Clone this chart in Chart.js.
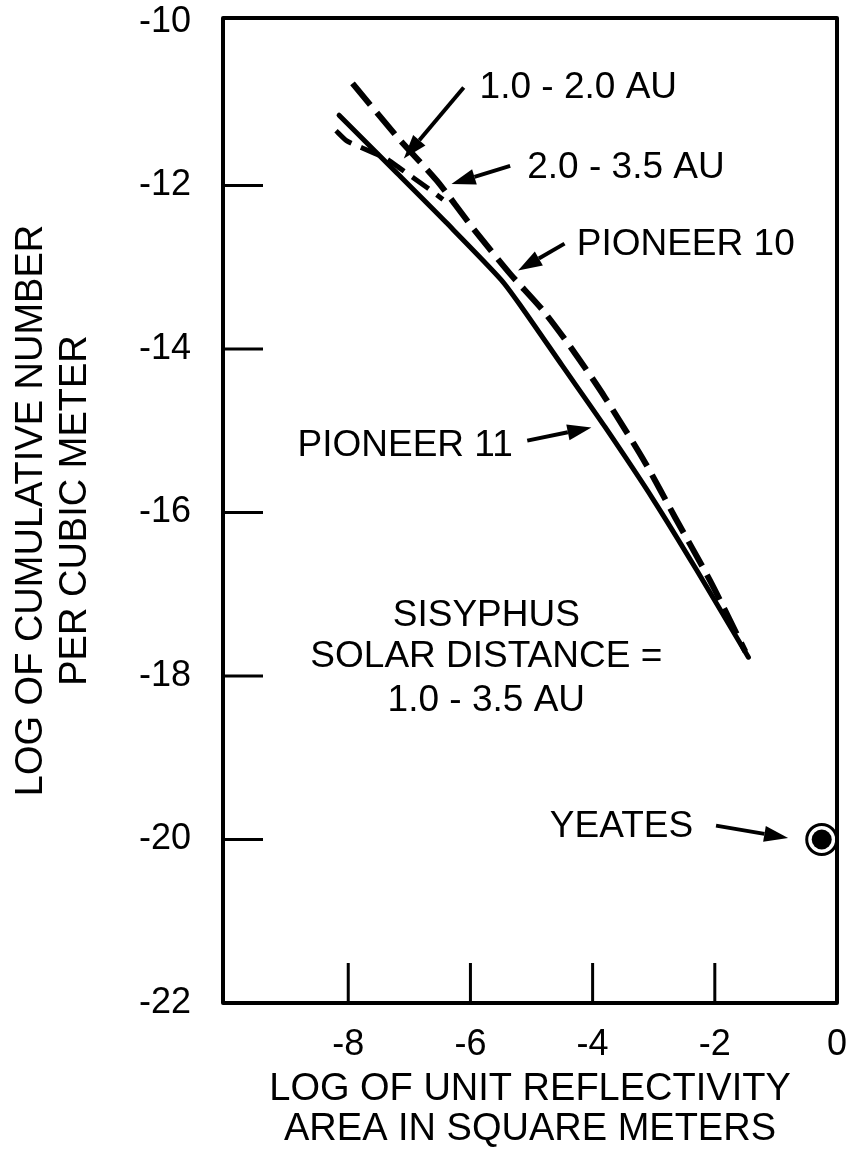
<!DOCTYPE html>
<html>
<head>
<meta charset="utf-8">
<script src="https://cdn.jsdelivr.net/npm/chart.js@4.4.1/dist/chart.umd.min.js"></script>
<style>
  html, body { margin: 0; padding: 0; background: #ffffff; }
  #wrap { width: 855px; height: 1151px; position: relative; }
</style>
</head>
<body>
<div id="wrap"><canvas id="c" width="855" height="1151"></canvas></div>
<script>
// ---------------- data ----------------
const pioneer11X = [-8.15, -7.2, -6.4, -5.5, -5.15, -4.5, -3.8, -3.0, -2.3, -1.45];
const pioneer11Y = [-11.14, -11.85, -12.45, -13.15, -13.5, -14.2, -14.95, -15.85, -16.7, -17.77];

const pioneer10X = [-7.93, -7.17, -6.55, -5.95, -5.35, -4.81, -4.29, -3.80, -3.14, -2.65, -2.08, -1.50];
const pioneer10Y = [-10.75, -11.43, -11.94, -12.53, -13.08, -13.53, -14.05, -14.59, -15.39, -16.06, -16.83, -17.70];

const sisyphusX = [-8.20, -8.03, -7.77, -7.38, -7.17, -6.68, -6.45];
const sisyphusY = [-11.33, -11.45, -11.54, -11.67, -11.78, -12.04, -12.17];

const yeatesX = [-0.25];
const yeatesY = [-20.0];

const xTickValues = [-8, -6, -4, -2, 0];
const xTickLabels = ['-8', '-6', '-4', '-2', '0'];
const yTickValues = [-22, -20, -18, -16, -14, -12, -10];
const yTickLabels = ['-22', '-20', '-18', '-16', '-14', '-12', '-10'];
const innerXTicks = [-8, -6, -4, -2];
const innerYTicks = [-20, -18, -16, -14, -12];

const xTitle = ['LOG OF UNIT REFLECTIVITY', 'AREA IN SQUARE METERS'];
const yTitle = ['LOG OF CUMULATIVE NUMBER', 'PER CUBIC METER'];

// annotations: text and arrows (anchors in data units)
const labelTexts = ['1.0 - 2.0 AU', '2.0 - 3.5 AU', 'PIONEER 10', 'PIONEER 11', 'YEATES'];
const labelX = [-5.85, -5.07, -4.26, -8.83, -4.70];
const labelY = [-10.80, -11.78, -12.73, -15.18, -19.85];
const arrowFromX = [-6.11, -5.35, -4.46, -5.07, -1.98];
const arrowFromY = [-10.80, -11.76, -12.71, -15.12, -19.83];
const arrowToX = [-7.09, -6.31, -5.22, -4.02, -0.80];
const arrowToY = [-11.67, -11.98, -13.04, -14.96, -19.98];

const noteLines = ['SISYPHUS', 'SOLAR DISTANCE =', '1.0 - 3.5 AU'];
const noteX = -5.74;
const noteY = [-17.26, -17.77, -18.30];

const FONT = '"Liberation Sans", Arial, Helvetica, sans-serif';

function pts(xs, ys) { return xs.map((x, i) => ({ x: x, y: ys[i] })); }

function noPad(s) { s.paddingTop = 0; s.paddingBottom = 0; s.paddingLeft = 0; s.paddingRight = 0; }

const frame = {
  id: 'frame',
  afterDatasetsDraw(chart) {
    const { ctx, chartArea: a, scales } = chart;
    const xs = scales.x, ys = scales.y;
    ctx.save();
    ctx.strokeStyle = '#000';
    ctx.lineWidth = 4;
    ctx.lineJoin = 'round';
    ctx.strokeRect(a.left, a.top, a.right - a.left, a.bottom - a.top);
    ctx.lineWidth = 3;
    ctx.beginPath();
    innerYTicks.forEach(v => {
      const p = ys.getPixelForValue(v);
      ctx.moveTo(a.left, p); ctx.lineTo(a.left + 40, p);
    });
    innerXTicks.forEach(v => {
      const p = xs.getPixelForValue(v);
      ctx.moveTo(p, a.bottom); ctx.lineTo(p, a.bottom - 40);
    });
    ctx.stroke();

    // annotation labels
    ctx.fillStyle = '#000';
    ctx.font = '37px ' + FONT;
    ctx.textBaseline = 'middle';
    ctx.textAlign = 'left';
    labelTexts.forEach((t, i) => {
      ctx.fillText(t, xs.getPixelForValue(labelX[i]), ys.getPixelForValue(labelY[i]));
    });
    ctx.textAlign = 'center';
    noteLines.forEach((t, i) => {
      ctx.fillText(t, xs.getPixelForValue(noteX), ys.getPixelForValue(noteY[i]));
    });

    // arrows
    ctx.lineWidth = 4;
    ctx.lineCap = 'butt';
    arrowFromX.forEach((fx, i) => {
      const x0 = xs.getPixelForValue(fx), y0 = ys.getPixelForValue(arrowFromY[i]);
      const x1 = xs.getPixelForValue(arrowToX[i]), y1 = ys.getPixelForValue(arrowToY[i]);
      const ang = Math.atan2(y1 - y0, x1 - x0);
      const L = 24, W = 8;
      const bx = x1 - L * Math.cos(ang), by = y1 - L * Math.sin(ang);
      ctx.beginPath();
      ctx.moveTo(x0, y0); ctx.lineTo(bx, by);
      ctx.stroke();
      ctx.beginPath();
      ctx.moveTo(x1, y1);
      ctx.lineTo(bx + W * Math.sin(ang), by - W * Math.cos(ang));
      ctx.lineTo(bx - W * Math.sin(ang), by + W * Math.cos(ang));
      ctx.closePath();
      ctx.fill();
    });
    ctx.restore();
  }
};

new Chart(document.getElementById('c'), {
  type: 'scatter',
  data: {
    datasets: [
      {
        label: 'YEATES',
        data: pts(yeatesX, yeatesY),
        showLine: false, pointRadius: 10, pointBorderWidth: 0,
        pointBackgroundColor: '#000', pointBorderColor: '#000'
      },
      {
        label: 'PIONEER 11',
        data: pts(pioneer11X, pioneer11Y),
        showLine: true, borderColor: '#000', borderWidth: 5,
        pointRadius: 0, tension: 0.25, borderCapStyle: 'round', fill: false
      },
      {
        label: 'PIONEER 10',
        data: pts(pioneer10X, pioneer10Y),
        showLine: true, borderColor: '#000', borderWidth: 6,
        borderDash: [28, 10], pointRadius: 0, tension: 0.25, borderCapStyle: 'butt', fill: false
      },
      {
        label: '1.0 - 2.0 AU',
        data: pts(sisyphusX, sisyphusY),
        showLine: true, borderColor: '#000', borderWidth: 5,
        borderDash: [20, 10], pointRadius: 0, tension: 0.2, borderCapStyle: 'butt', fill: false
      },
      {
        label: 'YEATES ring',
        data: pts(yeatesX, yeatesY),
        showLine: false, pointRadius: 15, pointBorderWidth: 3,
        pointBackgroundColor: '#fff', pointBorderColor: '#000'
      }
    ]
  },
  options: {
    responsive: false,
    animation: false,
    layout: { padding: { top: 18, right: 13, left: 0, bottom: 0 } },
    plugins: { legend: { display: false }, tooltip: { enabled: false } },
    scales: {
      x: {
        type: 'linear', min: -10.05, max: 0,
        grid: { display: false }, border: { display: false },
        afterBuildTicks: s => { s.ticks = xTickValues.map(v => ({ value: v })); },
        afterFit: s => { s.height = 148; noPad(s); },
        ticks: {
          padding: 12, color: '#000',
          font: { family: FONT, size: 36 },
          callback: (v, i) => xTickLabels[i]
        },
        title: {
          display: true, text: xTitle, color: '#000',
          font: { family: FONT, size: 38, lineHeight: 1.05 },
          padding: { top: 0, bottom: 2 }
        }
      },
      y: {
        type: 'linear', min: -22, max: -9.95,
        grid: { display: false }, border: { display: false },
        afterBuildTicks: s => { s.ticks = yTickValues.map(v => ({ value: v })); },
        afterFit: s => { s.width = 223; noPad(s); },
        ticks: {
          padding: 24, color: '#000',
          font: { family: FONT, size: 36 },
          callback: (v, i) => yTickLabels[i]
        },
        title: {
          display: true, text: yTitle, color: '#000',
          font: { family: FONT, size: 38, lineHeight: 1.15 },
          padding: { top: 10, bottom: 0 }
        }
      }
    }
  },
  plugins: [frame]
});
</script>
</body>
</html>
